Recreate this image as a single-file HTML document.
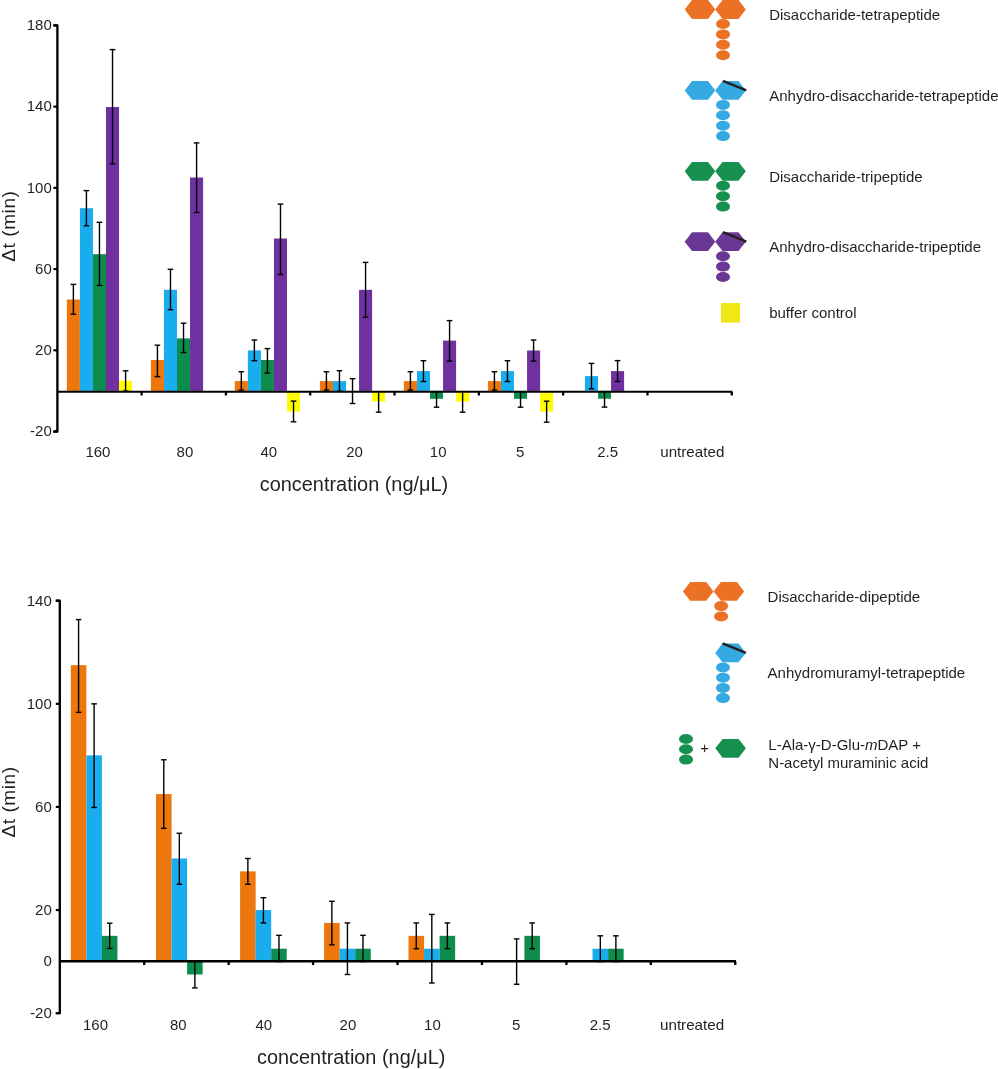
<!DOCTYPE html>
<html><head><meta charset="utf-8"><title>chart</title>
<style>
html,body{margin:0;padding:0;background:#fff;}
body{width:998px;height:1069px;overflow:hidden;}
svg{display:block;will-change:transform;font-family:"Liberation Sans", sans-serif;}
svg text{fill:#231F20;}
</style></head>
<body>
<svg width="998" height="1069" viewBox="0 0 998 1069">
<rect width="998" height="1069" fill="#fff"/>
<rect x="66.85" y="299.5" width="13.05" height="91.4" fill="#ED760D"/>
<rect x="79.9" y="208.2" width="13.05" height="182.7" fill="#1AADEE"/>
<rect x="92.95" y="254.2" width="13.05" height="136.7" fill="#0E8C4E"/>
<rect x="106" y="107" width="13.05" height="283.9" fill="#6F30A0"/>
<rect x="119.05" y="380.8" width="13.05" height="10.1" fill="#FFFC00"/>
<rect x="150.9" y="360" width="13.05" height="30.9" fill="#ED760D"/>
<rect x="163.95" y="289.8" width="13.05" height="101.1" fill="#1AADEE"/>
<rect x="177" y="338.4" width="13.05" height="52.5" fill="#0E8C4E"/>
<rect x="190.05" y="177.5" width="13.05" height="213.4" fill="#6F30A0"/>
<rect x="234.8" y="381.1" width="13.05" height="9.8" fill="#ED760D"/>
<rect x="247.85" y="350.4" width="13.05" height="40.5" fill="#1AADEE"/>
<rect x="260.9" y="360" width="13.05" height="30.9" fill="#0E8C4E"/>
<rect x="273.95" y="238.5" width="13.05" height="152.4" fill="#6F30A0"/>
<rect x="287" y="390.9" width="13.05" height="20.7" fill="#FFFC00"/>
<rect x="319.9" y="381.1" width="13.05" height="9.8" fill="#ED760D"/>
<rect x="332.95" y="381.1" width="13.05" height="9.8" fill="#1AADEE"/>
<rect x="359.05" y="289.8" width="13.05" height="101.1" fill="#6F30A0"/>
<rect x="372.1" y="390.9" width="13.05" height="10.6" fill="#FFFC00"/>
<rect x="403.9" y="381.1" width="13.05" height="9.8" fill="#ED760D"/>
<rect x="416.95" y="371.1" width="13.05" height="19.8" fill="#1AADEE"/>
<rect x="430" y="390.9" width="13.05" height="7.9" fill="#0E8C4E"/>
<rect x="443.05" y="340.6" width="13.05" height="50.3" fill="#6F30A0"/>
<rect x="456.1" y="390.9" width="13.05" height="10.7" fill="#FFFC00"/>
<rect x="487.9" y="381.1" width="13.05" height="9.8" fill="#ED760D"/>
<rect x="500.95" y="371.1" width="13.05" height="19.8" fill="#1AADEE"/>
<rect x="514" y="390.9" width="13.05" height="7.9" fill="#0E8C4E"/>
<rect x="527.05" y="350.5" width="13.05" height="40.4" fill="#6F30A0"/>
<rect x="540.1" y="390.9" width="13.05" height="20.7" fill="#FFFC00"/>
<rect x="584.95" y="376.1" width="13.05" height="14.8" fill="#1AADEE"/>
<rect x="598" y="390.9" width="13.05" height="7.8" fill="#0E8C4E"/>
<rect x="611.05" y="371.1" width="13.05" height="19.8" fill="#6F30A0"/>
<line x1="73.38" y1="284.4" x2="73.38" y2="314.2" stroke="#000" stroke-width="1.4" stroke-linecap="butt"/>
<line x1="70.58" y1="284.4" x2="76.17" y2="284.4" stroke="#000" stroke-width="1.4" stroke-linecap="butt"/>
<line x1="70.58" y1="314.2" x2="76.17" y2="314.2" stroke="#000" stroke-width="1.4" stroke-linecap="butt"/>
<line x1="86.42" y1="190.6" x2="86.42" y2="225.8" stroke="#000" stroke-width="1.4" stroke-linecap="butt"/>
<line x1="83.62" y1="190.6" x2="89.22" y2="190.6" stroke="#000" stroke-width="1.4" stroke-linecap="butt"/>
<line x1="83.62" y1="225.8" x2="89.22" y2="225.8" stroke="#000" stroke-width="1.4" stroke-linecap="butt"/>
<line x1="99.47" y1="222.3" x2="99.47" y2="285.5" stroke="#000" stroke-width="1.4" stroke-linecap="butt"/>
<line x1="96.67" y1="222.3" x2="102.27" y2="222.3" stroke="#000" stroke-width="1.4" stroke-linecap="butt"/>
<line x1="96.67" y1="285.5" x2="102.27" y2="285.5" stroke="#000" stroke-width="1.4" stroke-linecap="butt"/>
<line x1="112.53" y1="49.6" x2="112.53" y2="163.8" stroke="#000" stroke-width="1.4" stroke-linecap="butt"/>
<line x1="109.73" y1="49.6" x2="115.33" y2="49.6" stroke="#000" stroke-width="1.4" stroke-linecap="butt"/>
<line x1="109.73" y1="163.8" x2="115.33" y2="163.8" stroke="#000" stroke-width="1.4" stroke-linecap="butt"/>
<line x1="125.58" y1="370.8" x2="125.58" y2="391.1" stroke="#000" stroke-width="1.4" stroke-linecap="butt"/>
<line x1="122.78" y1="370.8" x2="128.38" y2="370.8" stroke="#000" stroke-width="1.4" stroke-linecap="butt"/>
<line x1="122.78" y1="391.1" x2="128.38" y2="391.1" stroke="#000" stroke-width="1.4" stroke-linecap="butt"/>
<line x1="157.43" y1="345.2" x2="157.43" y2="376.6" stroke="#000" stroke-width="1.4" stroke-linecap="butt"/>
<line x1="154.62" y1="345.2" x2="160.23" y2="345.2" stroke="#000" stroke-width="1.4" stroke-linecap="butt"/>
<line x1="154.62" y1="376.6" x2="160.23" y2="376.6" stroke="#000" stroke-width="1.4" stroke-linecap="butt"/>
<line x1="170.48" y1="269.3" x2="170.48" y2="309.7" stroke="#000" stroke-width="1.4" stroke-linecap="butt"/>
<line x1="167.68" y1="269.3" x2="173.28" y2="269.3" stroke="#000" stroke-width="1.4" stroke-linecap="butt"/>
<line x1="167.68" y1="309.7" x2="173.28" y2="309.7" stroke="#000" stroke-width="1.4" stroke-linecap="butt"/>
<line x1="183.53" y1="323.2" x2="183.53" y2="352.5" stroke="#000" stroke-width="1.4" stroke-linecap="butt"/>
<line x1="180.72" y1="323.2" x2="186.33" y2="323.2" stroke="#000" stroke-width="1.4" stroke-linecap="butt"/>
<line x1="180.72" y1="352.5" x2="186.33" y2="352.5" stroke="#000" stroke-width="1.4" stroke-linecap="butt"/>
<line x1="196.58" y1="142.9" x2="196.58" y2="212.5" stroke="#000" stroke-width="1.4" stroke-linecap="butt"/>
<line x1="193.78" y1="142.9" x2="199.38" y2="142.9" stroke="#000" stroke-width="1.4" stroke-linecap="butt"/>
<line x1="193.78" y1="212.5" x2="199.38" y2="212.5" stroke="#000" stroke-width="1.4" stroke-linecap="butt"/>
<line x1="241.33" y1="371.7" x2="241.33" y2="390.1" stroke="#000" stroke-width="1.4" stroke-linecap="butt"/>
<line x1="238.53" y1="371.7" x2="244.13" y2="371.7" stroke="#000" stroke-width="1.4" stroke-linecap="butt"/>
<line x1="238.53" y1="390.1" x2="244.13" y2="390.1" stroke="#000" stroke-width="1.4" stroke-linecap="butt"/>
<line x1="254.38" y1="340" x2="254.38" y2="360.7" stroke="#000" stroke-width="1.4" stroke-linecap="butt"/>
<line x1="251.58" y1="340" x2="257.18" y2="340" stroke="#000" stroke-width="1.4" stroke-linecap="butt"/>
<line x1="251.58" y1="360.7" x2="257.18" y2="360.7" stroke="#000" stroke-width="1.4" stroke-linecap="butt"/>
<line x1="267.43" y1="348.6" x2="267.43" y2="373" stroke="#000" stroke-width="1.4" stroke-linecap="butt"/>
<line x1="264.62" y1="348.6" x2="270.23" y2="348.6" stroke="#000" stroke-width="1.4" stroke-linecap="butt"/>
<line x1="264.62" y1="373" x2="270.23" y2="373" stroke="#000" stroke-width="1.4" stroke-linecap="butt"/>
<line x1="280.48" y1="204.1" x2="280.48" y2="274.5" stroke="#000" stroke-width="1.4" stroke-linecap="butt"/>
<line x1="277.68" y1="204.1" x2="283.28" y2="204.1" stroke="#000" stroke-width="1.4" stroke-linecap="butt"/>
<line x1="277.68" y1="274.5" x2="283.28" y2="274.5" stroke="#000" stroke-width="1.4" stroke-linecap="butt"/>
<line x1="293.52" y1="401.1" x2="293.52" y2="421.8" stroke="#000" stroke-width="1.4" stroke-linecap="butt"/>
<line x1="290.72" y1="401.1" x2="296.32" y2="401.1" stroke="#000" stroke-width="1.4" stroke-linecap="butt"/>
<line x1="290.72" y1="421.8" x2="296.32" y2="421.8" stroke="#000" stroke-width="1.4" stroke-linecap="butt"/>
<line x1="326.42" y1="371.7" x2="326.42" y2="390.1" stroke="#000" stroke-width="1.4" stroke-linecap="butt"/>
<line x1="323.62" y1="371.7" x2="329.22" y2="371.7" stroke="#000" stroke-width="1.4" stroke-linecap="butt"/>
<line x1="323.62" y1="390.1" x2="329.22" y2="390.1" stroke="#000" stroke-width="1.4" stroke-linecap="butt"/>
<line x1="339.47" y1="370.7" x2="339.47" y2="391.3" stroke="#000" stroke-width="1.4" stroke-linecap="butt"/>
<line x1="336.67" y1="370.7" x2="342.27" y2="370.7" stroke="#000" stroke-width="1.4" stroke-linecap="butt"/>
<line x1="336.67" y1="391.3" x2="342.27" y2="391.3" stroke="#000" stroke-width="1.4" stroke-linecap="butt"/>
<line x1="352.52" y1="378.7" x2="352.52" y2="403.5" stroke="#000" stroke-width="1.4" stroke-linecap="butt"/>
<line x1="349.72" y1="378.7" x2="355.32" y2="378.7" stroke="#000" stroke-width="1.4" stroke-linecap="butt"/>
<line x1="349.72" y1="403.5" x2="355.32" y2="403.5" stroke="#000" stroke-width="1.4" stroke-linecap="butt"/>
<line x1="365.57" y1="262.4" x2="365.57" y2="317.2" stroke="#000" stroke-width="1.4" stroke-linecap="butt"/>
<line x1="362.77" y1="262.4" x2="368.37" y2="262.4" stroke="#000" stroke-width="1.4" stroke-linecap="butt"/>
<line x1="362.77" y1="317.2" x2="368.37" y2="317.2" stroke="#000" stroke-width="1.4" stroke-linecap="butt"/>
<line x1="378.62" y1="390.9" x2="378.62" y2="412.2" stroke="#000" stroke-width="1.4" stroke-linecap="butt"/>
<line x1="375.82" y1="412.2" x2="381.42" y2="412.2" stroke="#000" stroke-width="1.4" stroke-linecap="butt"/>
<line x1="410.42" y1="371.7" x2="410.42" y2="390.1" stroke="#000" stroke-width="1.4" stroke-linecap="butt"/>
<line x1="407.62" y1="371.7" x2="413.22" y2="371.7" stroke="#000" stroke-width="1.4" stroke-linecap="butt"/>
<line x1="407.62" y1="390.1" x2="413.22" y2="390.1" stroke="#000" stroke-width="1.4" stroke-linecap="butt"/>
<line x1="423.47" y1="360.7" x2="423.47" y2="381.5" stroke="#000" stroke-width="1.4" stroke-linecap="butt"/>
<line x1="420.67" y1="360.7" x2="426.27" y2="360.7" stroke="#000" stroke-width="1.4" stroke-linecap="butt"/>
<line x1="420.67" y1="381.5" x2="426.27" y2="381.5" stroke="#000" stroke-width="1.4" stroke-linecap="butt"/>
<line x1="436.52" y1="390.9" x2="436.52" y2="407.2" stroke="#000" stroke-width="1.4" stroke-linecap="butt"/>
<line x1="433.72" y1="407.2" x2="439.32" y2="407.2" stroke="#000" stroke-width="1.4" stroke-linecap="butt"/>
<line x1="449.57" y1="320.6" x2="449.57" y2="361.1" stroke="#000" stroke-width="1.4" stroke-linecap="butt"/>
<line x1="446.77" y1="320.6" x2="452.37" y2="320.6" stroke="#000" stroke-width="1.4" stroke-linecap="butt"/>
<line x1="446.77" y1="361.1" x2="452.37" y2="361.1" stroke="#000" stroke-width="1.4" stroke-linecap="butt"/>
<line x1="462.62" y1="390.9" x2="462.62" y2="412.2" stroke="#000" stroke-width="1.4" stroke-linecap="butt"/>
<line x1="459.82" y1="412.2" x2="465.42" y2="412.2" stroke="#000" stroke-width="1.4" stroke-linecap="butt"/>
<line x1="494.42" y1="371.7" x2="494.42" y2="390.1" stroke="#000" stroke-width="1.4" stroke-linecap="butt"/>
<line x1="491.62" y1="371.7" x2="497.22" y2="371.7" stroke="#000" stroke-width="1.4" stroke-linecap="butt"/>
<line x1="491.62" y1="390.1" x2="497.22" y2="390.1" stroke="#000" stroke-width="1.4" stroke-linecap="butt"/>
<line x1="507.47" y1="360.7" x2="507.47" y2="381.5" stroke="#000" stroke-width="1.4" stroke-linecap="butt"/>
<line x1="504.67" y1="360.7" x2="510.27" y2="360.7" stroke="#000" stroke-width="1.4" stroke-linecap="butt"/>
<line x1="504.67" y1="381.5" x2="510.27" y2="381.5" stroke="#000" stroke-width="1.4" stroke-linecap="butt"/>
<line x1="520.52" y1="390.9" x2="520.52" y2="407.2" stroke="#000" stroke-width="1.4" stroke-linecap="butt"/>
<line x1="517.73" y1="407.2" x2="523.32" y2="407.2" stroke="#000" stroke-width="1.4" stroke-linecap="butt"/>
<line x1="533.57" y1="340" x2="533.57" y2="361.1" stroke="#000" stroke-width="1.4" stroke-linecap="butt"/>
<line x1="530.77" y1="340" x2="536.37" y2="340" stroke="#000" stroke-width="1.4" stroke-linecap="butt"/>
<line x1="530.77" y1="361.1" x2="536.37" y2="361.1" stroke="#000" stroke-width="1.4" stroke-linecap="butt"/>
<line x1="546.62" y1="401.2" x2="546.62" y2="422.2" stroke="#000" stroke-width="1.4" stroke-linecap="butt"/>
<line x1="543.83" y1="401.2" x2="549.42" y2="401.2" stroke="#000" stroke-width="1.4" stroke-linecap="butt"/>
<line x1="543.83" y1="422.2" x2="549.42" y2="422.2" stroke="#000" stroke-width="1.4" stroke-linecap="butt"/>
<line x1="591.47" y1="363.4" x2="591.47" y2="388.7" stroke="#000" stroke-width="1.4" stroke-linecap="butt"/>
<line x1="588.67" y1="363.4" x2="594.27" y2="363.4" stroke="#000" stroke-width="1.4" stroke-linecap="butt"/>
<line x1="588.67" y1="388.7" x2="594.27" y2="388.7" stroke="#000" stroke-width="1.4" stroke-linecap="butt"/>
<line x1="604.52" y1="390.9" x2="604.52" y2="407.1" stroke="#000" stroke-width="1.4" stroke-linecap="butt"/>
<line x1="601.73" y1="407.1" x2="607.32" y2="407.1" stroke="#000" stroke-width="1.4" stroke-linecap="butt"/>
<line x1="617.57" y1="360.6" x2="617.57" y2="381.5" stroke="#000" stroke-width="1.4" stroke-linecap="butt"/>
<line x1="614.77" y1="360.6" x2="620.37" y2="360.6" stroke="#000" stroke-width="1.4" stroke-linecap="butt"/>
<line x1="614.77" y1="381.5" x2="620.37" y2="381.5" stroke="#000" stroke-width="1.4" stroke-linecap="butt"/>
<path d="M53.4,25.43 H57.4 V431.51 H53.4" fill="none" stroke="#000" stroke-width="2.35" stroke-linejoin="round"/>
<line x1="53.4" y1="25.43" x2="57.4" y2="25.43" stroke="#000" stroke-width="2.2" stroke-linecap="butt"/>
<line x1="53.4" y1="106.64" x2="57.4" y2="106.64" stroke="#000" stroke-width="2.2" stroke-linecap="butt"/>
<line x1="53.4" y1="187.86" x2="57.4" y2="187.86" stroke="#000" stroke-width="2.2" stroke-linecap="butt"/>
<line x1="53.4" y1="269.08" x2="57.4" y2="269.08" stroke="#000" stroke-width="2.2" stroke-linecap="butt"/>
<line x1="53.4" y1="350.29" x2="57.4" y2="350.29" stroke="#000" stroke-width="2.2" stroke-linecap="butt"/>
<line x1="53.4" y1="431.51" x2="57.4" y2="431.51" stroke="#000" stroke-width="2.2" stroke-linecap="butt"/>
<line x1="57.4" y1="391.8" x2="732.3" y2="391.8" stroke="#000" stroke-width="2.1" stroke-linecap="butt"/>
<line x1="141.6" y1="391.8" x2="141.6" y2="395.5" stroke="#000" stroke-width="2.3" stroke-linecap="butt"/>
<line x1="225.91" y1="391.8" x2="225.91" y2="395.5" stroke="#000" stroke-width="2.3" stroke-linecap="butt"/>
<line x1="310.22" y1="391.8" x2="310.22" y2="395.5" stroke="#000" stroke-width="2.3" stroke-linecap="butt"/>
<line x1="394.53" y1="391.8" x2="394.53" y2="395.5" stroke="#000" stroke-width="2.3" stroke-linecap="butt"/>
<line x1="478.84" y1="391.8" x2="478.84" y2="395.5" stroke="#000" stroke-width="2.3" stroke-linecap="butt"/>
<line x1="563.15" y1="391.8" x2="563.15" y2="395.5" stroke="#000" stroke-width="2.3" stroke-linecap="butt"/>
<line x1="647.46" y1="391.8" x2="647.46" y2="395.5" stroke="#000" stroke-width="2.3" stroke-linecap="butt"/>
<line x1="731.77" y1="391.8" x2="731.77" y2="395.5" stroke="#000" stroke-width="2.3" stroke-linecap="butt"/>
<text x="51.8" y="30.23" font-size="15" text-anchor="end" >180</text>
<text x="51.8" y="111.44" font-size="15" text-anchor="end" >140</text>
<text x="51.8" y="192.66" font-size="15" text-anchor="end" >100</text>
<text x="51.8" y="273.88" font-size="15" text-anchor="end" >60</text>
<text x="51.8" y="355.09" font-size="15" text-anchor="end" >20</text>
<text x="51.8" y="436.31" font-size="15" text-anchor="end" >-20</text>
<text x="85.4" y="456.6" font-size="15" text-anchor="start" >160</text>
<text x="176.6" y="456.6" font-size="15" text-anchor="start" >80</text>
<text x="260.4" y="456.6" font-size="15" text-anchor="start" >40</text>
<text x="346.2" y="456.6" font-size="15" text-anchor="start" >20</text>
<text x="429.8" y="456.6" font-size="15" text-anchor="start" >10</text>
<text x="516" y="456.6" font-size="15" text-anchor="start" >5</text>
<text x="597.2" y="456.6" font-size="15" text-anchor="start" >2.5</text>
<text x="660.2" y="456.6" font-size="14.5" text-anchor="start" textLength="64.2" lengthAdjust="spacingAndGlyphs">untreated</text>
<text x="259.8" y="490.7" font-size="19.9" text-anchor="start" >concentration (ng/μL)</text>
<text transform="translate(15.2,226.4) rotate(-90)" font-size="19" text-anchor="middle" textLength="70.6" lengthAdjust="spacing">Δt (min)</text>
<rect x="70.8" y="665.19" width="15.55" height="296.41" fill="#ED760D"/>
<rect x="86.35" y="755.4" width="15.55" height="206.2" fill="#1AADEE"/>
<rect x="101.9" y="935.83" width="15.55" height="25.78" fill="#0E8C4E"/>
<rect x="156" y="794.06" width="15.55" height="167.54" fill="#ED760D"/>
<rect x="171.55" y="858.5" width="15.55" height="103.1" fill="#1AADEE"/>
<rect x="187.1" y="961.6" width="15.55" height="12.89" fill="#0E8C4E"/>
<rect x="240.1" y="871.39" width="15.55" height="90.21" fill="#ED760D"/>
<rect x="255.65" y="910.05" width="15.55" height="51.55" fill="#1AADEE"/>
<rect x="271.2" y="948.71" width="15.55" height="12.89" fill="#0E8C4E"/>
<rect x="324.1" y="922.94" width="15.55" height="38.66" fill="#ED760D"/>
<rect x="339.65" y="948.71" width="15.55" height="12.89" fill="#1AADEE"/>
<rect x="355.2" y="948.71" width="15.55" height="12.89" fill="#0E8C4E"/>
<rect x="408.5" y="935.83" width="15.55" height="25.78" fill="#ED760D"/>
<rect x="424.05" y="948.71" width="15.55" height="12.89" fill="#1AADEE"/>
<rect x="439.6" y="935.83" width="15.55" height="25.78" fill="#0E8C4E"/>
<rect x="524.4" y="935.83" width="15.55" height="25.78" fill="#0E8C4E"/>
<rect x="592.55" y="948.71" width="15.55" height="12.89" fill="#1AADEE"/>
<rect x="608.1" y="948.71" width="15.55" height="12.89" fill="#0E8C4E"/>
<line x1="78.58" y1="619.57" x2="78.58" y2="712.36" stroke="#000" stroke-width="1.4" stroke-linecap="butt"/>
<line x1="75.78" y1="619.57" x2="81.38" y2="619.57" stroke="#000" stroke-width="1.4" stroke-linecap="butt"/>
<line x1="75.78" y1="712.36" x2="81.38" y2="712.36" stroke="#000" stroke-width="1.4" stroke-linecap="butt"/>
<line x1="94.12" y1="703.85" x2="94.12" y2="807.47" stroke="#000" stroke-width="1.4" stroke-linecap="butt"/>
<line x1="91.33" y1="703.85" x2="96.92" y2="703.85" stroke="#000" stroke-width="1.4" stroke-linecap="butt"/>
<line x1="91.33" y1="807.47" x2="96.92" y2="807.47" stroke="#000" stroke-width="1.4" stroke-linecap="butt"/>
<line x1="109.68" y1="923.2" x2="109.68" y2="948.45" stroke="#000" stroke-width="1.4" stroke-linecap="butt"/>
<line x1="106.88" y1="923.2" x2="112.48" y2="923.2" stroke="#000" stroke-width="1.4" stroke-linecap="butt"/>
<line x1="106.88" y1="948.45" x2="112.48" y2="948.45" stroke="#000" stroke-width="1.4" stroke-linecap="butt"/>
<line x1="163.78" y1="759.78" x2="163.78" y2="828.34" stroke="#000" stroke-width="1.4" stroke-linecap="butt"/>
<line x1="160.97" y1="759.78" x2="166.58" y2="759.78" stroke="#000" stroke-width="1.4" stroke-linecap="butt"/>
<line x1="160.97" y1="828.34" x2="166.58" y2="828.34" stroke="#000" stroke-width="1.4" stroke-linecap="butt"/>
<line x1="179.33" y1="833.24" x2="179.33" y2="884.27" stroke="#000" stroke-width="1.4" stroke-linecap="butt"/>
<line x1="176.53" y1="833.24" x2="182.13" y2="833.24" stroke="#000" stroke-width="1.4" stroke-linecap="butt"/>
<line x1="176.53" y1="884.27" x2="182.13" y2="884.27" stroke="#000" stroke-width="1.4" stroke-linecap="butt"/>
<line x1="194.88" y1="961.6" x2="194.88" y2="987.89" stroke="#000" stroke-width="1.4" stroke-linecap="butt"/>
<line x1="192.07" y1="987.89" x2="197.68" y2="987.89" stroke="#000" stroke-width="1.4" stroke-linecap="butt"/>
<line x1="247.88" y1="858.5" x2="247.88" y2="884.27" stroke="#000" stroke-width="1.4" stroke-linecap="butt"/>
<line x1="245.07" y1="858.5" x2="250.68" y2="858.5" stroke="#000" stroke-width="1.4" stroke-linecap="butt"/>
<line x1="245.07" y1="884.27" x2="250.68" y2="884.27" stroke="#000" stroke-width="1.4" stroke-linecap="butt"/>
<line x1="263.43" y1="897.68" x2="263.43" y2="922.94" stroke="#000" stroke-width="1.4" stroke-linecap="butt"/>
<line x1="260.62" y1="897.68" x2="266.23" y2="897.68" stroke="#000" stroke-width="1.4" stroke-linecap="butt"/>
<line x1="260.62" y1="922.94" x2="266.23" y2="922.94" stroke="#000" stroke-width="1.4" stroke-linecap="butt"/>
<line x1="278.97" y1="935.31" x2="278.97" y2="961.6" stroke="#000" stroke-width="1.4" stroke-linecap="butt"/>
<line x1="276.17" y1="935.31" x2="281.77" y2="935.31" stroke="#000" stroke-width="1.4" stroke-linecap="butt"/>
<line x1="276.17" y1="961.6" x2="281.77" y2="961.6" stroke="#000" stroke-width="1.4" stroke-linecap="butt"/>
<line x1="331.88" y1="901.29" x2="331.88" y2="944.85" stroke="#000" stroke-width="1.4" stroke-linecap="butt"/>
<line x1="329.07" y1="901.29" x2="334.68" y2="901.29" stroke="#000" stroke-width="1.4" stroke-linecap="butt"/>
<line x1="329.07" y1="944.85" x2="334.68" y2="944.85" stroke="#000" stroke-width="1.4" stroke-linecap="butt"/>
<line x1="347.43" y1="922.94" x2="347.43" y2="974.49" stroke="#000" stroke-width="1.4" stroke-linecap="butt"/>
<line x1="344.62" y1="922.94" x2="350.23" y2="922.94" stroke="#000" stroke-width="1.4" stroke-linecap="butt"/>
<line x1="344.62" y1="974.49" x2="350.23" y2="974.49" stroke="#000" stroke-width="1.4" stroke-linecap="butt"/>
<line x1="362.98" y1="935.31" x2="362.98" y2="961.6" stroke="#000" stroke-width="1.4" stroke-linecap="butt"/>
<line x1="360.18" y1="935.31" x2="365.78" y2="935.31" stroke="#000" stroke-width="1.4" stroke-linecap="butt"/>
<line x1="360.18" y1="961.6" x2="365.78" y2="961.6" stroke="#000" stroke-width="1.4" stroke-linecap="butt"/>
<line x1="416.27" y1="922.94" x2="416.27" y2="948.71" stroke="#000" stroke-width="1.4" stroke-linecap="butt"/>
<line x1="413.47" y1="922.94" x2="419.07" y2="922.94" stroke="#000" stroke-width="1.4" stroke-linecap="butt"/>
<line x1="413.47" y1="948.71" x2="419.07" y2="948.71" stroke="#000" stroke-width="1.4" stroke-linecap="butt"/>
<line x1="431.82" y1="914.43" x2="431.82" y2="982.99" stroke="#000" stroke-width="1.4" stroke-linecap="butt"/>
<line x1="429.02" y1="914.43" x2="434.62" y2="914.43" stroke="#000" stroke-width="1.4" stroke-linecap="butt"/>
<line x1="429.02" y1="982.99" x2="434.62" y2="982.99" stroke="#000" stroke-width="1.4" stroke-linecap="butt"/>
<line x1="447.38" y1="922.94" x2="447.38" y2="948.71" stroke="#000" stroke-width="1.4" stroke-linecap="butt"/>
<line x1="444.57" y1="922.94" x2="450.18" y2="922.94" stroke="#000" stroke-width="1.4" stroke-linecap="butt"/>
<line x1="444.57" y1="948.71" x2="450.18" y2="948.71" stroke="#000" stroke-width="1.4" stroke-linecap="butt"/>
<line x1="516.62" y1="938.92" x2="516.62" y2="984.28" stroke="#000" stroke-width="1.4" stroke-linecap="butt"/>
<line x1="513.83" y1="938.92" x2="519.42" y2="938.92" stroke="#000" stroke-width="1.4" stroke-linecap="butt"/>
<line x1="513.83" y1="984.28" x2="519.42" y2="984.28" stroke="#000" stroke-width="1.4" stroke-linecap="butt"/>
<line x1="532.17" y1="922.94" x2="532.17" y2="948.71" stroke="#000" stroke-width="1.4" stroke-linecap="butt"/>
<line x1="529.38" y1="922.94" x2="534.97" y2="922.94" stroke="#000" stroke-width="1.4" stroke-linecap="butt"/>
<line x1="529.38" y1="948.71" x2="534.97" y2="948.71" stroke="#000" stroke-width="1.4" stroke-linecap="butt"/>
<line x1="600.32" y1="935.83" x2="600.32" y2="961.6" stroke="#000" stroke-width="1.4" stroke-linecap="butt"/>
<line x1="597.52" y1="935.83" x2="603.12" y2="935.83" stroke="#000" stroke-width="1.4" stroke-linecap="butt"/>
<line x1="597.52" y1="961.6" x2="603.12" y2="961.6" stroke="#000" stroke-width="1.4" stroke-linecap="butt"/>
<line x1="615.88" y1="935.83" x2="615.88" y2="961.6" stroke="#000" stroke-width="1.4" stroke-linecap="butt"/>
<line x1="613.08" y1="935.83" x2="618.67" y2="935.83" stroke="#000" stroke-width="1.4" stroke-linecap="butt"/>
<line x1="613.08" y1="961.6" x2="618.67" y2="961.6" stroke="#000" stroke-width="1.4" stroke-linecap="butt"/>
<path d="M55.8,600.75 H59.8 V1013.15 H55.8" fill="none" stroke="#000" stroke-width="2.35" stroke-linejoin="round"/>
<line x1="55.8" y1="600.75" x2="59.8" y2="600.75" stroke="#000" stroke-width="2.2" stroke-linecap="butt"/>
<line x1="55.8" y1="703.85" x2="59.8" y2="703.85" stroke="#000" stroke-width="2.2" stroke-linecap="butt"/>
<line x1="55.8" y1="806.95" x2="59.8" y2="806.95" stroke="#000" stroke-width="2.2" stroke-linecap="butt"/>
<line x1="55.8" y1="910.05" x2="59.8" y2="910.05" stroke="#000" stroke-width="2.2" stroke-linecap="butt"/>
<line x1="55.8" y1="1013.15" x2="59.8" y2="1013.15" stroke="#000" stroke-width="2.2" stroke-linecap="butt"/>
<line x1="59.8" y1="961.3" x2="736" y2="961.3" stroke="#000" stroke-width="2.4" stroke-linecap="butt"/>
<line x1="144.2" y1="961.3" x2="144.2" y2="965" stroke="#000" stroke-width="2.3" stroke-linecap="butt"/>
<line x1="228.64" y1="961.3" x2="228.64" y2="965" stroke="#000" stroke-width="2.3" stroke-linecap="butt"/>
<line x1="313.08" y1="961.3" x2="313.08" y2="965" stroke="#000" stroke-width="2.3" stroke-linecap="butt"/>
<line x1="397.52" y1="961.3" x2="397.52" y2="965" stroke="#000" stroke-width="2.3" stroke-linecap="butt"/>
<line x1="481.96" y1="961.3" x2="481.96" y2="965" stroke="#000" stroke-width="2.3" stroke-linecap="butt"/>
<line x1="566.4" y1="961.3" x2="566.4" y2="965" stroke="#000" stroke-width="2.3" stroke-linecap="butt"/>
<line x1="650.84" y1="961.3" x2="650.84" y2="965" stroke="#000" stroke-width="2.3" stroke-linecap="butt"/>
<line x1="735.28" y1="961.3" x2="735.28" y2="965" stroke="#000" stroke-width="2.3" stroke-linecap="butt"/>
<text x="51.8" y="605.55" font-size="15" text-anchor="end" >140</text>
<text x="51.8" y="708.65" font-size="15" text-anchor="end" >100</text>
<text x="51.8" y="811.75" font-size="15" text-anchor="end" >60</text>
<text x="51.8" y="914.85" font-size="15" text-anchor="end" >20</text>
<text x="51.8" y="1017.95" font-size="15" text-anchor="end" >-20</text>
<text x="51.8" y="966.4" font-size="15" text-anchor="end" >0</text>
<text x="83" y="1030" font-size="15" text-anchor="start" >160</text>
<text x="170" y="1030" font-size="15" text-anchor="start" >80</text>
<text x="255.4" y="1030" font-size="15" text-anchor="start" >40</text>
<text x="339.6" y="1030" font-size="15" text-anchor="start" >20</text>
<text x="424.1" y="1030" font-size="15" text-anchor="start" >10</text>
<text x="512.1" y="1030" font-size="15" text-anchor="start" >5</text>
<text x="589.7" y="1030" font-size="15" text-anchor="start" >2.5</text>
<text x="660" y="1030" font-size="14.5" text-anchor="start" textLength="64.2" lengthAdjust="spacingAndGlyphs">untreated</text>
<text x="257" y="1064.1" font-size="19.9" text-anchor="start" >concentration (ng/μL)</text>
<text transform="translate(15.2,802.3) rotate(-90)" font-size="19" text-anchor="middle" textLength="70.6" lengthAdjust="spacing">Δt (min)</text>
<polygon points="684.7,9.5 692,0.1 708,0.1 715.3,9.5 708,18.9 692,18.9" fill="#EB7125"/>
<polygon points="715.2,9.5 722.5,0.1 738.5,0.1 745.8,9.5 738.5,18.9 722.5,18.9" fill="#EB7125"/>
<ellipse cx="723" cy="24" rx="7" ry="5" fill="#EB7125"/>
<ellipse cx="723" cy="34.4" rx="7" ry="5" fill="#EB7125"/>
<ellipse cx="723" cy="44.8" rx="7" ry="5" fill="#EB7125"/>
<ellipse cx="723" cy="55.2" rx="7" ry="5" fill="#EB7125"/>
<polygon points="684.7,90.4 692,81 708,81 715.3,90.4 708,99.8 692,99.8" fill="#35A9E1"/>
<polygon points="715.2,90.4 722.5,81 738.5,81 745.8,90.4 738.5,99.8 722.5,99.8" fill="#35A9E1"/>
<ellipse cx="723" cy="104.9" rx="7" ry="5" fill="#35A9E1"/>
<ellipse cx="723" cy="115.3" rx="7" ry="5" fill="#35A9E1"/>
<ellipse cx="723" cy="125.7" rx="7" ry="5" fill="#35A9E1"/>
<ellipse cx="723" cy="136.1" rx="7" ry="5" fill="#35A9E1"/>
<line x1="723" y1="80.8" x2="746.3" y2="90.4" stroke="#231F20" stroke-width="2.4" stroke-linecap="butt"/>
<polygon points="684.7,171.3 692,161.9 708,161.9 715.3,171.3 708,180.7 692,180.7" fill="#16904F"/>
<polygon points="715.2,171.3 722.5,161.9 738.5,161.9 745.8,171.3 738.5,180.7 722.5,180.7" fill="#16904F"/>
<ellipse cx="723" cy="185.8" rx="7" ry="5" fill="#16904F"/>
<ellipse cx="723" cy="196.2" rx="7" ry="5" fill="#16904F"/>
<ellipse cx="723" cy="206.6" rx="7" ry="5" fill="#16904F"/>
<polygon points="684.7,241.7 692,232.3 708,232.3 715.3,241.7 708,251.1 692,251.1" fill="#6A3795"/>
<polygon points="715.2,241.7 722.5,232.3 738.5,232.3 745.8,241.7 738.5,251.1 722.5,251.1" fill="#6A3795"/>
<ellipse cx="723" cy="256.2" rx="7" ry="5" fill="#6A3795"/>
<ellipse cx="723" cy="266.6" rx="7" ry="5" fill="#6A3795"/>
<ellipse cx="723" cy="277" rx="7" ry="5" fill="#6A3795"/>
<line x1="723" y1="232.1" x2="746.3" y2="241.7" stroke="#231F20" stroke-width="2.4" stroke-linecap="butt"/>
<rect x="721" y="303" width="19" height="19.6" fill="#EFE816"/>
<text x="769.2" y="19.7" font-size="15.0" text-anchor="start" >Disaccharide-tetrapeptide</text>
<text x="769.2" y="100.8" font-size="15.0" text-anchor="start" >Anhydro-disaccharide-tetrapeptide</text>
<text x="769.2" y="181.7" font-size="15.0" text-anchor="start" >Disaccharide-tripeptide</text>
<text x="769.2" y="252.4" font-size="15.0" text-anchor="start" >Anhydro-disaccharide-tripeptide</text>
<text x="769.2" y="317.8" font-size="15.0" text-anchor="start" >buffer control</text>
<polygon points="682.9,591.4 690.2,582 706.2,582 713.5,591.4 706.2,600.8 690.2,600.8" fill="#EB7125"/>
<polygon points="713.6,591.4 720.9,582 736.9,582 744.2,591.4 736.9,600.8 720.9,600.8" fill="#EB7125"/>
<ellipse cx="721.1" cy="606.1" rx="7" ry="5" fill="#EB7125"/>
<ellipse cx="721.1" cy="616.4" rx="7" ry="5" fill="#EB7125"/>
<polygon points="715.2,652.9 722.5,643.5 738.5,643.5 745.8,652.9 738.5,662.3 722.5,662.3" fill="#35A9E1"/>
<ellipse cx="723" cy="667.5" rx="7" ry="5" fill="#35A9E1"/>
<ellipse cx="723" cy="677.7" rx="7" ry="5" fill="#35A9E1"/>
<ellipse cx="723" cy="687.9" rx="7" ry="5" fill="#35A9E1"/>
<ellipse cx="723" cy="698.1" rx="7" ry="5" fill="#35A9E1"/>
<line x1="722.6" y1="643.3" x2="745.9" y2="652.9" stroke="#231F20" stroke-width="2.4" stroke-linecap="butt"/>
<ellipse cx="686" cy="739" rx="7" ry="5" fill="#16904F"/>
<ellipse cx="686" cy="749.3" rx="7" ry="5" fill="#16904F"/>
<ellipse cx="686" cy="759.6" rx="7" ry="5" fill="#16904F"/>
<polygon points="715.3,748.3 722.6,738.9 738.6,738.9 745.9,748.3 738.6,757.7 722.6,757.7" fill="#16904F"/>
<text x="704.7" y="752.6" font-size="15" text-anchor="middle" >+</text>
<text x="767.6" y="601.6" font-size="15.0" text-anchor="start" >Disaccharide-dipeptide</text>
<text x="767.6" y="678.4" font-size="15.0" text-anchor="start" >Anhydromuramyl-tetrapeptide</text>
<text x="768.3" y="750" font-size="15.0" text-anchor="start" >L-Ala-γ-D-Glu-<tspan font-style="italic">m</tspan>DAP +</text>
<text x="768.3" y="767.6" font-size="15.0" text-anchor="start" >N-acetyl muraminic acid</text>
</svg>
</body></html>
